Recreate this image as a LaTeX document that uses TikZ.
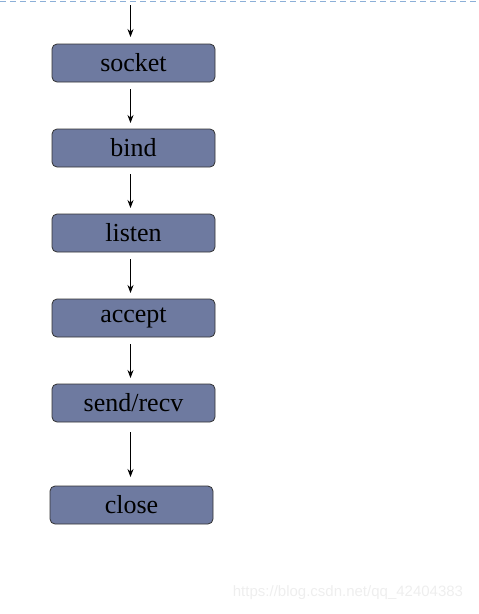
\documentclass[tikz,border=0pt]{standalone}
\usepackage{fontspec}
\setmainfont{Liberation Serif}
\newfontfamily\marksans{Liberation Sans}
\usetikzlibrary{positioning,arrows.meta}

\definecolor{boxfill}{RGB}{110,122,160}
\definecolor{topline}{RGB}{140,175,215}
\definecolor{markgray}{RGB}{238,238,238}

\tikzset{
  callbox/.style={draw=black!80, fill=boxfill, rounded corners=5pt, line width=0.8pt,
    minimum width=163pt, minimum height=38pt, inner sep=0pt, outer sep=0pt,
    font=\fontsize{26}{28}\selectfont},
  flow/.style={-{Stealth[length=8pt,width=6pt]}, line width=0.8pt,
    shorten <=7pt, shorten >=6pt}
}

\begin{document}
\begin{tikzpicture}[x=1pt, y=-1pt, node distance=47pt]
  \useasboundingbox (0,0) rectangle (479,614);
  \draw[topline, dash pattern=on 6pt off 4pt, line width=1pt] (0,1) -- (479,1);

  % the calls, one under the other
  \node[callbox] (socket) at (133.5,63) {socket};
  \node[callbox, below=of socket] (bind) {bind};
  \node[callbox, below=of bind] (listen) {listen};
  \node[callbox, below=of listen] (accept) {accept};
  \node[callbox, below=of accept] (sendrecv) {send/recv};
  \node[callbox, below=64pt of sendrecv, xshift=-2pt] (close) {close};

  \coordinate (start) at (130.5,5);
  \coordinate (ax) at (130.5,0);
  \draw[flow, shorten <=0pt, shorten >=7pt] (start) -- (socket.north -| ax);
  \foreach \a/\b in {socket/bind, bind/listen, listen/accept, accept/sendrecv}
    \draw[flow] (\a.south -| ax) -- (\b.north -| ax);
  \draw[flow, shorten <=10pt, shorten >=9pt] (sendrecv.south -| ax) -- (close.north -| ax);

  \node[text=markgray, font=\marksans\fontsize{15}{17}\selectfont] (mark) at (348,593) {https://blog.csdn.net/qq\_42404383};
\end{tikzpicture}
\end{document}
